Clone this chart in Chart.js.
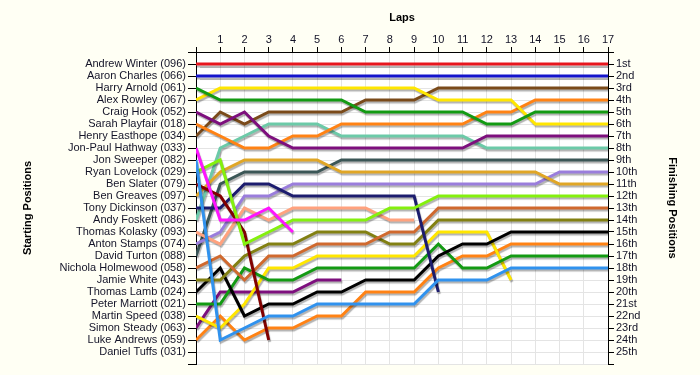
<!DOCTYPE html>
<html>
<head>
<meta charset="utf-8">
<script src="https://cdn.jsdelivr.net/npm/chart.js@4"></script>
<style>
  html, body { margin: 0; padding: 0; background: #fffff4; }
  #wrap { width: 700px; height: 375px; position: relative; }
</style>
</head>
<body>
<div id="wrap"><canvas id="lapChart"></canvas></div>
<script>
// --- DATA ---
const laps = [0, 1, 2, 3, 4, 5, 6, 7, 8, 9, 10, 11, 12, 13, 14, 15, 16, 17];

const startLabels = [
    "Andrew Winter (096)", "Aaron Charles (066)", "Harry Arnold (061)", "Alex Rowley (067)",
    "Craig Hook (052)", "Sarah Playfair (018)", "Henry Easthope (034)", "Jon-Paul Hathway (033)",
    "Jon Sweeper (082)", "Ryan Lovelock (029)", "Ben Slater (079)", "Ben Greaves (097)",
    "Tony Dickinson (037)", "Andy Foskett (086)", "Thomas Kolasky (093)", "Anton Stamps (074)",
    "David Turton (088)", "Nichola Holmewood (058)", "Jamie White (043)", "Thomas Lamb (024)",
    "Peter Marriott (021)", "Martin Speed (038)", "Simon Steady (063)", "Luke Andrews (059)",
    "Daniel Tuffs (031)"
];

const finishLabels = [
    "1st", "2nd", "3rd", "4th", "5th", "6th", "7th", "8th", "9th", "10th",
    "11th", "12th", "13th", "14th", "15th", "16th", "17th", "18th", "19th", "20th",
    "21st", "22nd", "23rd", "24th", "25th"
];

// position of each driver at every lap (lap 0 = grid), shorter arrays = retired
const winter    = [1, 1, 1, 1, 1, 1, 1, 1, 1, 1, 1, 1, 1, 1, 1, 1, 1, 1];
const charles   = [2, 2, 2, 2, 2, 2, 2, 2, 2, 2, 2, 2, 2, 2, 2, 2, 2, 2];
const arnold    = [3, 4, 4, 4, 4, 4, 4, 5, 5, 5, 5, 5, 6, 6, 5, 5, 5, 5];
const rowley    = [4, 3, 3, 3, 3, 3, 3, 3, 3, 3, 4, 4, 4, 4, 6, 6, 6, 6];
const hook      = [5, 6, 5, 7, 8, 8, 8, 8, 8, 8, 8, 8, 7, 7, 7, 7, 7, 7];
const playfair  = [6, 7, 8, 8, 7, 7, 6, 6, 6, 6, 6, 6, 5, 5, 4, 4, 4, 4];
const easthope  = [7, 5, 6, 5, 5, 5, 5, 4, 4, 4, 3, 3, 3, 3, 3, 3, 3, 3];
const hathway   = [8, 14, 14, 13, 15];
const sweeper   = [9, 24, 23, 22, 22, 21, 21, 21, 21, 21, 19, 19, 19, 18, 18, 18, 18, 18];
const lovelock  = [10, 9, 16, 15, 14, 14, 14, 14, 13, 13, 12, 12, 12, 12, 12, 12, 12, 12];
const slater    = [11, 12, 15, 24];
const greaves   = [12, 10, 9, 9, 9, 9, 10, 10, 10, 10, 10, 10, 10, 10, 10, 11, 11, 11];
const dickinson = [13, 13, 11, 11, 12, 12, 12, 12, 12, 12, 20];
const foskett   = [14, 8, 7, 6, 6, 6, 7, 7, 7, 7, 7, 7, 8, 8, 8, 8, 8, 8];
const kolasky   = [15, 16, 13, 14, 13, 13, 13, 13, 14, 14];
const stamps    = [16, 15, 12, 12, 11, 11, 11, 11, 11, 11, 11, 11, 11, 11, 11, 10, 10, 10];
const turton    = [17, 11, 10, 10, 10, 10, 9, 9, 9, 9, 9, 9, 9, 9, 9, 9, 9, 9];
const holmewood = [18, 17, 19, 17, 17, 16, 16, 16, 15, 15, 13, 13, 13, 13, 13, 13, 13, 13];
const white     = [19, 19, 17, 16, 16, 15, 15, 15, 16, 16, 14, 14, 14, 14, 14, 14, 14, 14];
const lamb      = [20, 18, 22, 21, 21, 20, 20, 19, 19, 19, 17, 16, 16, 15, 15, 15, 15, 15];
const marriott  = [21, 21, 18, 19, 19, 18, 18, 18, 18, 18, 16, 18, 18, 17, 17, 17, 17, 17];
const speed     = [22, 23, 21, 18, 18, 17, 17, 17, 17, 17, 15, 15, 15, 19];
const steady    = [23, 20, 20, 20, 20, 19, 19];
const andrews   = [24, 22, 24, 23, 23, 22, 22, 20, 20, 20, 18, 17, 17, 16, 16, 16, 16, 16];
const tuffs     = [];

const series = [winter, charles, arnold, rowley, hook, playfair, easthope, hathway,
    sweeper, lovelock, slater, greaves, dickinson, foskett, kolasky, stamps,
    turton, holmewood, white, lamb, marriott, speed, steady, andrews, tuffs];

const lineColors = [
    "#e8161e", "#1414cc", "#139a13", "#ffe600", "#7d0f7d", "#ff8214", "#7a4a1a", "#ff14ff",
    "#3092ee", "#84f00e", "#820000", "#e0a626", "#1c1c6e", "#6ccaa8", "#ffa27e", "#9a7ddc",
    "#3b5656", "#d0692e", "#828012", "#000000", "#139a13", "#ffe600", "#7d0f7d", "#ff8214",
    "#7a4a1a"
];

// --- CHART ---
const tickFont = { family: "'Liberation Sans', Arial, sans-serif", size: 11 };
const titleFont = { family: "'Liberation Sans', Arial, sans-serif", size: 11, weight: "bold" };
const textColor = "#141428";
const gridColor = "#e4e4e4";

const datasets = series.map((pos, i) => ({
    label: startLabels[i],
    data: pos.map((p, lap) => ({ x: laps[lap], y: p })),
    borderColor: lineColors[i],
    borderWidth: 3,
    pointRadius: 0,
    tension: 0,
    fill: false,
    yAxisID: "y"
}));

// white plot area on the cream page
const plotBackground = {
    id: "plotBackground",
    beforeDraw(chart) {
        const { ctx, chartArea: a } = chart;
        ctx.save();
        ctx.fillStyle = "#ffffff";
        ctx.fillRect(a.left, a.top, a.right - a.left, a.bottom - a.top);
        ctx.restore();
    }
};

// soft drop shadow under the lines
const lineShadow = {
    id: "lineShadow",
    beforeDatasetsDraw(chart) {
        const ctx = chart.ctx;
        ctx.save();
        ctx.shadowColor = "rgba(0, 0, 0, 0.3)";
        ctx.shadowOffsetX = 1;
        ctx.shadowOffsetY = 2;
        ctx.shadowBlur = 1;
    },
    afterDatasetsDraw(chart) {
        chart.ctx.restore();
    }
};

new Chart(document.getElementById("lapChart"), {
    type: "line",
    data: { datasets },
    plugins: [plotBackground, lineShadow],
    options: {
        responsive: true,
        maintainAspectRatio: false,
        animation: false,
        layout: { padding: { left: 0, right: 0, top: 0, bottom: 11 } },
        plugins: { legend: { display: false }, tooltip: { enabled: false } },
        scales: {
            x: {
                type: "linear",
                position: "top",
                min: 0,
                max: 17,
                ticks: {
                    stepSize: 1,
                    autoSkip: false,
                    maxRotation: 0,
                    padding: 0,
                    font: tickFont,
                    color: textColor,
                    callback: v => (v === 0 ? "" : v)
                },
                grid: { color: gridColor, tickColor: "#000", tickLength: 5 },
                border: { color: "#000" },
                title: { display: true, text: "Laps", font: titleFont, color: "#000", padding: { top: 11, bottom: 0 } },
                afterFit(scale) { scale.height = 52; }
            },
            y: {
                type: "linear",
                position: "left",
                reverse: true,
                min: 0,
                max: 26,
                ticks: {
                    stepSize: 1,
                    autoSkip: false,
                    padding: 2,
                    font: tickFont,
                    color: textColor,
                    callback: v => startLabels[v - 1] || ""
                },
                grid: { color: gridColor, tickColor: "#000", tickLength: 8 },
                border: { color: "#000" },
                title: { display: true, text: "Starting Positions", font: titleFont, color: "#000", padding: { top: 21, bottom: 0 } },
                afterFit(scale) { scale.width = 196; }
            },
            y2: {
                type: "linear",
                position: "right",
                reverse: true,
                min: 0,
                max: 26,
                ticks: {
                    stepSize: 1,
                    autoSkip: false,
                    padding: 2,
                    font: tickFont,
                    color: textColor,
                    callback: v => finishLabels[v - 1] || ""
                },
                grid: { drawOnChartArea: false, tickColor: "#000", tickLength: 6 },
                border: { color: "#000" },
                title: { display: true, text: "Finishing Positions", font: titleFont, color: "#000", padding: { top: 21, bottom: 0 } },
                afterFit(scale) { scale.width = 92; }
            }
        }
    }
});
</script>
</body>
</html>
